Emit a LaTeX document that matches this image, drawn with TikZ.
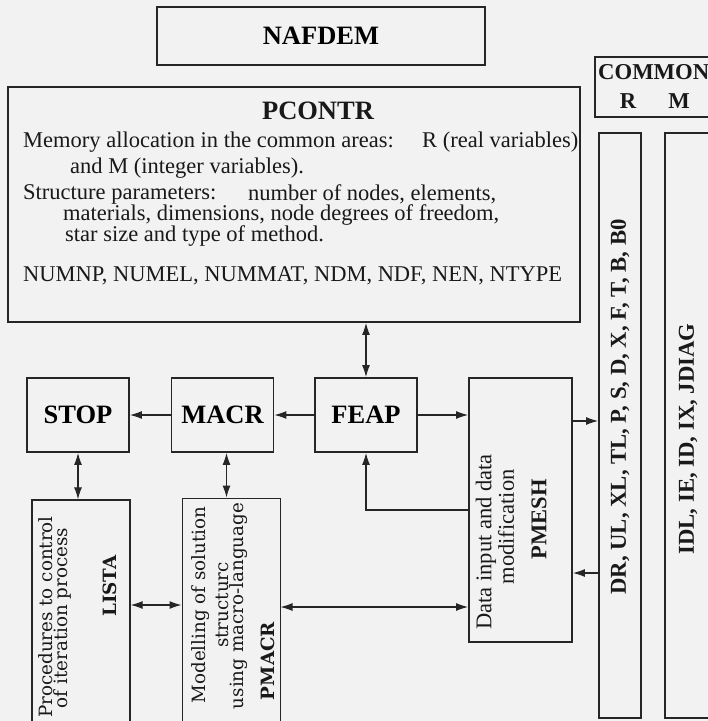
\documentclass[tikz,border=0pt]{standalone}
\usepackage{fontspec}
\setmainfont{Liberation Serif}
\newfontfamily\schoolfont{DejaVu Serif}
\usetikzlibrary{arrows.meta}

\begin{document}
\begin{tikzpicture}[x=1pt,y=-1pt,
    box/.style={draw=black!85,line width=1.9pt,inner sep=0pt},
    thinbox/.style={draw=black!85,line width=1.3pt,inner sep=0pt},
    txt/.style={inner sep=0pt,font=\bodyfont,text=black!90},
    conn/.style={draw=black!85,line width=1.1pt,-{Latex[length=12pt,width=8pt]}},
    both/.style={draw=black!85,line width=1.1pt,{Latex[length=12pt,width=8pt]}-{Latex[length=12pt,width=8pt]}}]

\def\titlefont{\fontsize{26.5}{28}\selectfont\bfseries}
\def\bodyfont{\fontsize{22.5}{24}\selectfont}
\def\colfont{\fontsize{22.7}{24}\selectfont\bfseries}
\def\schfont{\schoolfont\fontsize{18.3}{20}\selectfont}

\useasboundingbox[fill=black!5] (0,0) rectangle (708,721);
\clip (0,0) rectangle (708,721);

% top boxes
\node[box,minimum width=328,minimum height=58,font=\titlefont] (nafdem) at (321,36) {NAFDEM};
\node[box,minimum width=572,minimum height=235] (pcontr) at (294,204.5) {};
\node[txt,font=\titlefont] (pctitle) at (318,111) {PCONTR};
\node[txt,anchor=west] (pcA) at (23,142) {Memory allocation in the common areas:};
\node[txt,anchor=west] (pcB) at (422,142) {R (real variables)};
\node[txt,anchor=west] (pcC) at (70,168) {and M (integer variables).};
\node[txt,anchor=west] (pcD) at (23,194) {Structure parameters:};
\node[txt,anchor=west] (pcE) at (248,194) {number of nodes, elements,};
\node[txt,anchor=west] (pcF) at (63,215) {materials, dimensions, node degrees of freedom,};
\node[txt,anchor=west] (pcG) at (65,236) {star size and type of method.};
\node[txt,anchor=west] (pcH) at (23,276) {NUMNP, NUMEL, NUMMAT, NDM, NDF, NEN, NTYPE};

% common areas
\node[thinbox,minimum width=125,minimum height=60] (common) at (657.5,87) {};
\node[txt,font=\colfont,anchor=west] (commonlab) at (598,72) {COMMON};
\node[txt,font=\colfont] (rlab) at (628,101) {R};
\node[txt,font=\colfont] (mlab) at (679,101) {M};
\node[box,minimum width=42,minimum height=585] (colr) at (620,425.5) {};
\node[box,minimum width=48,minimum height=585] (colm) at (689,425.5) {};
\node[txt,font=\colfont,rotate=90] (rvars) at (620,407) {DR, UL, XL, TL, P, S, D, X, F, T, B, B0};
\node[txt,font=\colfont,rotate=90] (mvars) at (688,439) {IDL, IE, ID, IX, JDIAG};

% program modules
\foreach \name/\x/\lab in {stop/78/STOP,macr/222.5/MACR,feap/366/FEAP}
    \node[box,minimum width=102,minimum height=74,font=\titlefont] (\name) at (\x,415) {\lab};

\node[box,minimum width=103,minimum height=264] (pmesh) at (520.5,510) {};
\node[txt,rotate=90] (pmeshA) at (486,542) {Data input and data};
\node[txt,rotate=90] (pmeshB) at (506,527) {modification};
\node[txt,rotate=90,font=\bodyfont\bfseries] (pmeshC) at (539,519) {PMESH};

\node[thinbox,minimum width=98,minimum height=240] (lista) at (81,620) {};
\node[txt,rotate=90,font=\schfont] (listaA) at (46,617) {Procedures to control};
\node[txt,rotate=90,font=\schfont] (listaB) at (62,618) {of iteration process};
\node[txt,rotate=90,font=\schfont\bfseries] (listaC) at (110,586) {LISTA};

\node[thinbox,line width=1pt,minimum width=98,minimum height=242] (pmacr) at (231,619) {};
\node[txt,rotate=90,font=\schfont] (pmacrA) at (201,605) {Modelling of solution};
\node[txt,rotate=90,font=\schfont] (pmacrB) at (222,605) {structurc};
\node[txt,rotate=90,font=\schfont] (pmacrC) at (239,606) {using macro-language};
\node[txt,rotate=90,font=\schfont\bfseries] (pmacrD) at (268,661) {PMACR};

% connections
\draw[conn] (macr) -- (stop);
\draw[conn] (feap) -- (macr);
\draw[conn] (feap.east) -- (feap.east -| pmesh.west);
\draw[both] (feap.north) -- (feap.north |- pcontr.south);
\draw[both] (stop.south) -- (stop.south |- lista.north);
\draw[both] ([xshift=4pt]macr.south) -- ([xshift=4pt]macr.south |- pmacr.north);
\draw[both] ([yshift=15pt]lista.east) -- ([yshift=15pt]lista.east -| pmacr.west);
\draw[both] ([yshift=12pt]pmacr.east) -- ([yshift=12pt]pmacr.east -| pmesh.west);
\draw[conn] ([yshift=89pt]pmesh.east) -- ([yshift=89pt]pmesh.east -| colr.west);
\draw[conn] ([yshift=-63pt]pmesh.east -| colr.west) -- ([yshift=-63pt]pmesh.east);
\draw[conn] (pmesh.west) -| (feap.south);

\end{tikzpicture}
\end{document}
